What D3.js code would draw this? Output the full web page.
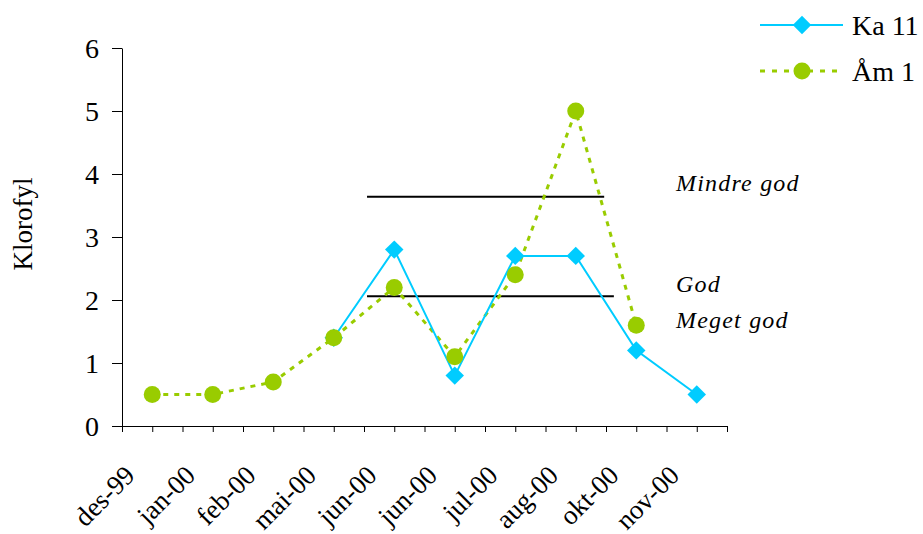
<!DOCTYPE html>
<html>
<head>
<meta charset="utf-8">
<script src="https://cdn.jsdelivr.net/npm/d3@7"></script>
<style>
  body { margin: 0; background: #fff; }
  svg { display: block; }
  text { font-family: "Liberation Serif", "Times New Roman", serif; fill: #000; }
</style>
</head>
<body>
<svg id="chart" width="923" height="534"></svg>
<script>
// Sampling dates (two samples in June) and chlorophyll values per station
const categories = ["des-99", "jan-00", "feb-00", "mai-00", "jun-00", "jun-00", "jul-00", "aug-00", "okt-00", "nov-00"];
const ka11 = [null, null, null, 1.4, 2.8, 0.8, 2.7, 2.7, 1.2, 0.5];
const am1  = [0.5, 0.5, 0.7, 1.4, 2.2, 1.1, 2.4, 5.0, 1.6, null];
const seriesNames = ["Ka 11", "Åm 1"];
const yTicks = [0, 1, 2, 3, 4, 5, 6];
// Class boundaries for water quality and the class names
const classLimits = [3.64, 2.06];
const classLabels = ["Mindre god", "God", "Meget god"];

const svg = d3.select("#chart");
const cyan = "#00CCFF", green = "#99CC00";

const x = d3.scaleLinear().domain([0, categories.length]).range([122, 727]);
const y = d3.scaleLinear().domain([0, 6]).range([426, 48]);
const cx = i => x(i + 0.5);

// Axes
const xAxis = d3.axisBottom(x)
  .tickValues(d3.range(0, categories.length + 0.01, 0.5))
  .tickSize(6).tickSizeOuter(0).tickFormat("");
svg.append("g").attr("transform", `translate(0,${y(0)})`).call(xAxis)
  .call(g => g.selectAll("path, line").attr("stroke", "#000"));

const yAxis = d3.axisLeft(y).tickValues(yTicks).tickFormat(d3.format("d"))
  .tickSize(10).tickSizeOuter(0).tickPadding(13);
svg.append("g").attr("transform", `translate(${x(0)},0)`).call(yAxis)
  .call(g => g.attr("font-family", null).attr("font-size", null))
  .call(g => g.selectAll("path, line").attr("stroke", "#000"))
  .call(g => g.selectAll("text").style("font-size", "28px").attr("fill", "#000").attr("dy", "0.34em"));

// Category labels, rotated
svg.append("g").selectAll("text").data(categories).join("text")
  .attr("transform", (d, i) => `translate(${cx(i) - 16},477) rotate(-45)`)
  .attr("text-anchor", "end")
  .style("font-size", "27px")
  .text(d => d);

// Axis title
svg.append("text")
  .attr("transform", `translate(32,224) rotate(-90)`)
  .attr("text-anchor", "middle")
  .style("font-size", "27px")
  .text("Klorofyl");

// Class boundary lines
const limitEnds = [[4.05, 7.97], [4.05, 8.13]];
svg.append("g").selectAll("line").data(classLimits).join("line")
  .attr("x1", (d, i) => x(limitEnds[i][0]))
  .attr("x2", (d, i) => x(limitEnds[i][1]))
  .attr("y1", d => y(d)).attr("y2", d => y(d))
  .attr("stroke", "#000").attr("stroke-width", 2);

// Class names
const labelValues = [3.85, 2.25, 1.68];
svg.append("g").selectAll("text").data(classLabels).join("text")
  .attr("x", 676)
  .attr("y", (d, i) => y(labelValues[i]) + 8)
  .style("font-size", "24px").style("font-style", "italic")
  .attr("letter-spacing", "1.2")
  .text(d => d);

// Series lines
const line = d3.line().defined(d => d != null).x((d, i) => cx(i)).y(d => y(d));
svg.append("path").datum(am1).attr("d", line)
  .attr("fill", "none").attr("stroke", green).attr("stroke-width", 3).attr("stroke-dasharray", "5,6");
svg.append("path").datum(ka11).attr("d", line)
  .attr("fill", "none").attr("stroke", cyan).attr("stroke-width", 2);

// Markers
const diamond = d3.symbol().type(d3.symbolSquare).size(170);
svg.append("g").selectAll("path")
  .data(ka11.map((v, i) => ({ v, i })).filter(d => d.v != null)).join("path")
  .attr("d", diamond)
  .attr("transform", d => `translate(${cx(d.i)},${y(d.v)}) rotate(45)`)
  .attr("fill", cyan);
svg.append("g").selectAll("circle")
  .data(am1.map((v, i) => ({ v, i })).filter(d => d.v != null)).join("circle")
  .attr("cx", d => cx(d.i)).attr("cy", d => y(d.v)).attr("r", 8.5)
  .attr("fill", green);

// Legend
const legend = svg.append("g");
const legendRows = [
  { name: seriesNames[0], color: cyan, dash: null, width: 2, y: 25 },
  { name: seriesNames[1], color: green, dash: "5,7", width: 3, y: 71 }
];
legendRows.forEach((r, k) => {
  legend.append("line").attr("x1", 760).attr("x2", 843).attr("y1", r.y).attr("y2", r.y)
    .attr("stroke", r.color).attr("stroke-width", r.width).attr("stroke-dasharray", r.dash);
  if (k === 0) {
    legend.append("path").attr("d", diamond).attr("transform", `translate(802,${r.y}) rotate(45)`).attr("fill", r.color);
  } else {
    legend.append("circle").attr("cx", 802).attr("cy", r.y).attr("r", 8.5).attr("fill", r.color);
  }
  legend.append("text").attr("x", 852).attr("y", r.y + 10).style("font-size", "28px").text(r.name);
});
</script>
</body>
</html>
